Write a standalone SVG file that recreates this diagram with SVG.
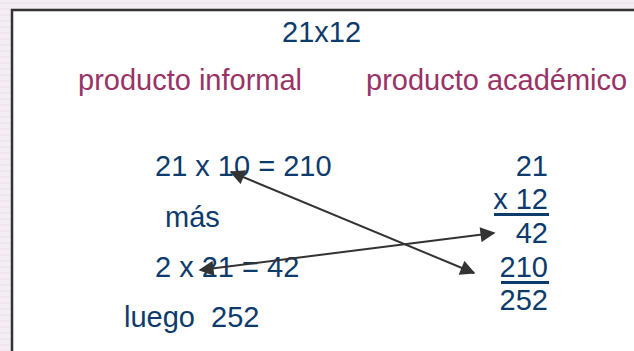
<svg xmlns="http://www.w3.org/2000/svg" width="634" height="351" viewBox="0 0 634 351">
<style>
.t{font-family:"Liberation Sans",Arial,sans-serif;font-size:29px;fill:#0d3b6b}
.h{font-family:"Liberation Sans",Arial,sans-serif;font-size:29px;fill:#993366}
.r{text-anchor:end}
.c{stroke:#333;stroke-width:2;fill:none;marker-start:url(#ah);marker-end:url(#ah)}
.u{stroke:#0d3b6b;stroke-width:3}
</style>
<defs>
<pattern id="bg" width="634" height="6" patternUnits="userSpaceOnUse">
<rect width="634" height="6" fill="#f4edf4"/>
<rect y="2" width="634" height="2" fill="#efe6ef"/>
</pattern>
<marker id="ah" viewBox="0 0 10 10" refX="9" refY="5" markerWidth="9" markerHeight="7.5" markerUnits="strokeWidth" orient="auto-start-reverse">
<path d="M0,0 L10,5 L0,10 Z" fill="#333"/>
</marker>
</defs>
<rect width="634" height="351" fill="url(#bg)"/>
<rect x="12" y="10" width="640" height="360" fill="#fff" stroke="#333" stroke-width="2.5"/>
<g id="title"><text class="t" x="282" y="42">21x12</text></g>
<g id="informal-header"><text class="h" x="78" y="90">producto informal</text></g>
<g id="academico-header"><text class="h" x="366" y="90">producto académico</text></g>
<g id="informal">
<text class="t" x="155" y="176">21 x 10 = 210</text>
<text class="t" x="165" y="227">más</text>
<text class="t" x="155" y="277">2 x 21 = 42</text>
<text class="t" x="124" y="327" xml:space="preserve" style="white-space:pre">luego  252</text>
</g>
<g id="academico">
<text class="t r" x="548" y="176">21</text>
<text class="t r" x="548" y="209">x 12</text>
<line class="u" x1="494" y1="214.5" x2="549" y2="214.5"/>
<text class="t r" x="548" y="243">42</text>
<text class="t r" x="548" y="277">210</text>
<line class="u" x1="501" y1="282.5" x2="549" y2="282.5"/>
<text class="t r" x="548" y="310">252</text>
</g>
<g id="connectors">
<line class="c" x1="231" y1="172" x2="474" y2="273"/>
<line class="c" x1="200" y1="270" x2="494" y2="233"/>
</g>
</svg>
